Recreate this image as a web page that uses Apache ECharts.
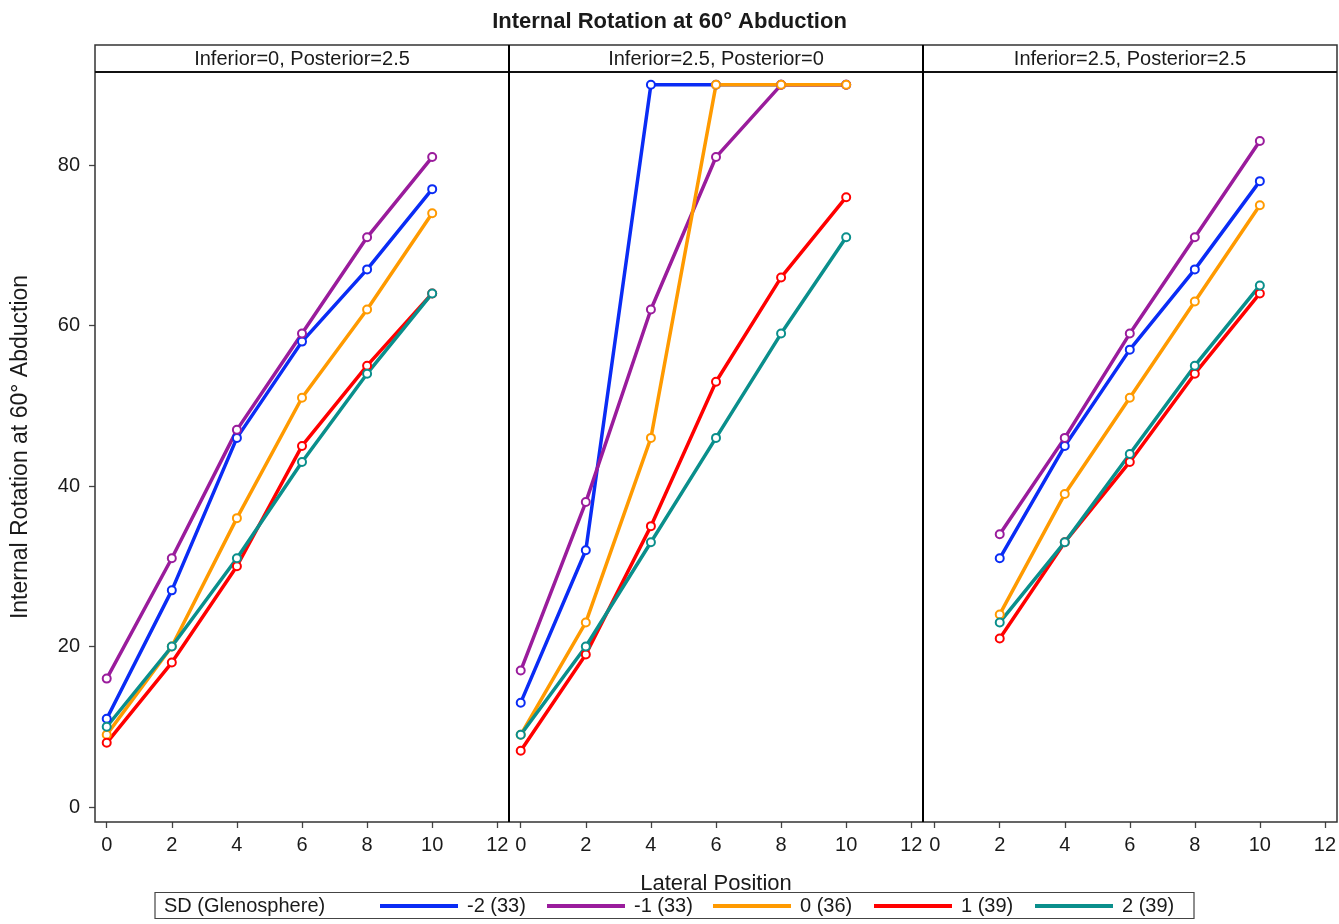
<!DOCTYPE html>
<html>
<head>
<meta charset="utf-8">
<script src="https://cdn.jsdelivr.net/npm/echarts@6/dist/echarts.min.js"></script>
<style>
html,body{margin:0;padding:0;background:#fff;}
#chart{width:1339px;height:924px;}
</style>
</head>
<body>
<div id="chart"></div>
<script>
// ---------- data ----------
const lateral = [0, 2, 4, 6, 8, 10];
const xTicks = [0, 2, 4, 6, 8, 10, 12];
const yTicks = [0, 20, 40, 60, 80];
const panelTitles = ['Inferior=0, Posterior=2.5', 'Inferior=2.5, Posterior=0', 'Inferior=2.5, Posterior=2.5'];
const groups = ['-2 (33)', '-1 (33)', '0 (36)', '1 (39)', '2 (39)'];
const groupColors = ['#0A2CF5', '#9A1C9C', '#FF9A00', '#FF0000', '#0A8F8C'];

// panel 1: Inferior=0, Posterior=2.5
const p1_m2 = [11, 27, 46, 58, 67, 77];
const p1_m1 = [16, 31, 47, 59, 71, 81];
const p1_0  = [9, 20, 36, 51, 62, 74];
const p1_p1 = [8, 18, 30, 45, 55, 64];
const p1_p2 = [10, 20, 31, 43, 54, 64];
// panel 2: Inferior=2.5, Posterior=0
const p2_m2 = [13, 32, 90, 90, 90, 90];
const p2_m1 = [17, 38, 62, 81, 90, 90];
const p2_0  = [9, 23, 46, 90, 90, 90];
const p2_p1 = [7, 19, 35, 53, 66, 76];
const p2_p2 = [9, 20, 33, 46, 59, 71];
// panel 3: Inferior=2.5, Posterior=2.5
const p3_m2 = [null, 31, 45, 57, 67, 78];
const p3_m1 = [null, 34, 46, 59, 71, 83];
const p3_0  = [null, 24, 39, 51, 63, 75];
const p3_p1 = [null, 21, 33, 43, 54, 64];
const p3_p2 = [null, 23, 33, 44, 55, 65];

const panels = [
  [p1_m2, p1_m1, p1_0, p1_p1, p1_p2],
  [p2_m2, p2_m1, p2_0, p2_p1, p2_p2],
  [p3_m2, p3_m1, p3_0, p3_p1, p3_p2]
];

// ---------- layout ----------
const FONT = "'Liberation Sans', Arial, sans-serif";
const TXT = '#1a1a1a';
const frameL = 95, frameR = 1337, frameT = 45, headB = 72, frameB = 822;
const panelW = (frameR - frameL) / 3;
const xMin = -0.36, xMax = 12.36;
const yMin = -1.87, yMax = 91.6;

const grids = [], xAxes = [], yAxes = [], series = [], graphics = [];
for (let p = 0; p < 3; p++) {
  const pl = frameL + p * panelW;
  grids.push({left: pl, width: panelW, top: headB, height: frameB - headB});
  xAxes.push({
    type: 'value', gridIndex: p, min: xMin, max: xMax,
    axisLine: {show: false, onZero: false},
    axisTick: {show: true, length: 6, customValues: xTicks, lineStyle: {color: '#444', width: 1.3}},
    axisLabel: {show: true, margin: 13, fontSize: 20, color: TXT, fontFamily: FONT, customValues: xTicks},
    splitLine: {show: false},
    name: p === 1 ? 'Lateral Position' : '',
    nameLocation: 'middle', nameGap: 51,
    nameTextStyle: {fontSize: 22, color: TXT, fontFamily: FONT}
  });
  yAxes.push({
    type: 'value', gridIndex: p, min: yMin, max: yMax,
    show: p === 0,
    axisLine: {show: false, onZero: false},
    axisTick: {show: true, length: 6, customValues: yTicks, lineStyle: {color: '#444', width: 1.3}},
    axisLabel: {margin: 15, fontSize: 20, color: TXT, fontFamily: FONT, customValues: yTicks},
    splitLine: {show: false},
    name: 'Internal Rotation at 60° Abduction',
    nameLocation: 'middle', nameGap: 63,
    nameTextStyle: {fontSize: 23, color: TXT, fontFamily: FONT}
  });
  panels[p].forEach((vals, g) => {
    series.push({
      type: 'line', name: groups[g], xAxisIndex: p, yAxisIndex: p,
      data: lateral.map((x, i) => vals[i] == null ? null : [x, vals[i]]),
      symbol: 'emptyCircle', symbolSize: 8,
      lineStyle: {color: groupColors[g], width: 3.5},
      itemStyle: {color: groupColors[g], borderWidth: 1.6},
      emphasis: {disabled: true},
      animation: false
    });
  });
  graphics.push({
    type: 'text', x: pl + panelW / 2, y: (frameT + headB) / 2 + 0.5, z: 10,
    style: {text: panelTitles[p], font: '20px ' + FONT, fill: TXT,
            textAlign: 'center', textVerticalAlign: 'middle'}
  });
}

// frame
graphics.push({type: 'rect', shape: {x: frameL, y: frameT, width: frameR - frameL, height: frameB - frameT},
  style: {fill: 'none', stroke: '#333', lineWidth: 1.5}, z: 5});
graphics.push({type: 'line', shape: {x1: frameL, y1: headB, x2: frameR, y2: headB},
  style: {stroke: '#111', lineWidth: 2}, z: 5});
for (let p = 1; p < 3; p++) {
  const x = frameL + p * panelW;
  graphics.push({type: 'line', shape: {x1: x, y1: frameT, x2: x, y2: frameB},
    style: {stroke: '#000', lineWidth: 2}, z: 5});
}
// legend box + title
graphics.push({type: 'rect', shape: {x: 155, y: 892.5, width: 1039, height: 26},
  style: {fill: 'none', stroke: '#444', lineWidth: 1.2}, z: 5});
graphics.push({type: 'text', x: 164, y: 906, z: 6,
  style: {text: 'SD (Glenosphere)', font: '20px ' + FONT, fill: TXT, textVerticalAlign: 'middle'}});

const legendLefts = [380, 547, 713, 874, 1035];
const legends = groups.map((g, i) => ({
  data: [g], left: legendLefts[i], top: 895, padding: 0,
  icon: 'rect', itemWidth: 78, itemHeight: 4,
  selectedMode: false,
  textStyle: {fontSize: 20, color: TXT, fontFamily: FONT, padding: [0, 0, 0, 4], lineHeight: 22}
}));

const option = {
  backgroundColor: '#fff',
  animation: false,
  title: {text: 'Internal Rotation at 60° Abduction', left: 'center', top: 6,
    textStyle: {fontSize: 22, fontWeight: 'bold', color: TXT, fontFamily: FONT}},
  grid: grids, xAxis: xAxes, yAxis: yAxes, series: series,
  legend: legends,
  graphic: graphics
};
const chart = echarts.init(document.getElementById('chart'), null, {renderer: 'canvas'});
chart.setOption(option);
</script>
</body>
</html>
